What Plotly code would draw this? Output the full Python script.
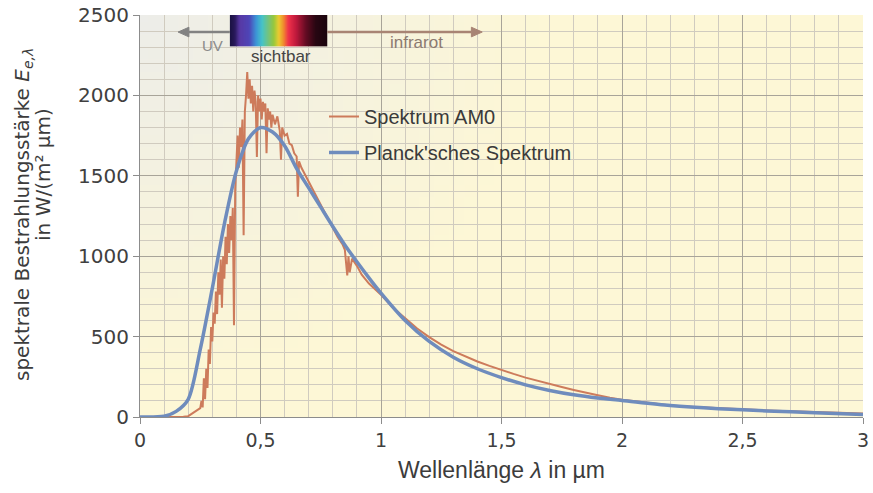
import base64, struct, zlib
import plotly.graph_objects as go

# ---------------- data ----------------
am0_wl = [0.00, 0.17, 0.18, 0.20, 0.21, 0.22, 0.23, 0.24, 0.25, 0.255, 0.26, 0.265, 0.27, 0.275,
          0.28, 0.285, 0.29, 0.295, 0.30, 0.305, 0.31, 0.315, 0.32, 0.325, 0.33, 0.335, 0.34,
          0.345, 0.35, 0.355, 0.36, 0.365, 0.37, 0.375, 0.38, 0.385, 0.39, 0.395, 0.40, 0.405,
          0.41, 0.415, 0.42, 0.425, 0.43, 0.435, 0.44, 0.445, 0.45, 0.455, 0.46, 0.465, 0.47,
          0.475, 0.48, 0.485, 0.49, 0.495, 0.50, 0.505, 0.51, 0.515, 0.52, 0.525, 0.53, 0.535,
          0.54, 0.545, 0.55, 0.56, 0.57, 0.58, 0.585, 0.59, 0.60, 0.61, 0.62, 0.63, 0.64, 0.65,
          0.655, 0.66, 0.67, 0.68, 0.69, 0.70, 0.72, 0.74, 0.76, 0.78, 0.80, 0.82, 0.84, 0.85,
          0.86, 0.865, 0.87, 0.88, 0.90, 0.92, 0.95, 1.00, 1.05, 1.10, 1.15, 1.20, 1.25, 1.30,
          1.35, 1.40, 1.45, 1.50, 1.55, 1.60, 1.65, 1.70, 1.75, 1.80, 1.85, 1.90, 1.95, 2.00,
          2.10, 2.20, 2.30, 2.40, 2.50, 2.60, 2.70, 2.80, 2.90, 3.00]
am0_e = [0, 0, 2, 5, 15, 25, 30, 45, 55, 100, 60, 240, 110, 300,
         180, 420, 330, 560, 470, 650, 580, 780, 640, 900, 760, 980, 680,
         1000, 860, 1120, 950, 1200, 1020, 1250, 1100, 1300, 570, 1420, 1600, 1750,
         1550, 1800, 1680, 1850, 1130, 1900, 2000, 2145, 1980, 2100, 1950, 2060, 1900,
         2030, 1960, 1617, 2000, 1900, 1980, 1850, 1960, 1900, 1950, 1640, 1920, 1850,
         1900, 1800, 1880, 1820, 1870, 1780, 1600, 1800, 1750, 1760, 1700, 1690, 1640, 1620,
         1370, 1590, 1550, 1520, 1490, 1460, 1400, 1345, 1290, 1235, 1180, 1120, 1075, 1040,
         880, 1000, 900, 985, 940, 885, 830, 760, 680, 612, 550, 497, 450, 410,
         375, 345, 318, 292, 268, 245, 224, 205, 186, 168, 150, 135, 120, 108,
         90, 72, 62, 54, 47, 41, 36, 31, 27, 22]

planck_wl = [0.00, 0.10, 0.15, 0.20, 0.25, 0.30, 0.35, 0.40, 0.45, 0.50, 0.55, 0.60, 0.65,
             0.70, 0.75, 0.80, 0.85, 0.90, 0.95, 1.00, 1.10, 1.20, 1.30, 1.40, 1.50, 1.60,
             1.70, 1.80, 1.90, 2.00, 2.20, 2.40, 2.60, 2.80, 3.00]
planck_e = [0, 5, 35, 110, 420, 800, 1200, 1530, 1730, 1800, 1772, 1687, 1545,
            1425, 1305, 1185, 1070, 965, 865, 770, 600, 470, 372, 300, 245, 200,
            165, 138, 118, 103, 72, 52, 38, 27, 15]

x_tickvals = [0, 0.5, 1, 1.5, 2, 2.5, 3]
x_ticktext = ["0", "0,5", "1", "1,5", "2", "2,5", "3"]
y_tickvals = [0, 500, 1000, 1500, 2000, 2500]
y_ticktext = ["0", "500", "1000", "1500", "2000", "2500"]

# visible-spectrum strip (wavelength span) and arrows
vis_start, vis_end = 0.373, 0.777
uv_arrow_end, ir_arrow_end = 0.158, 1.42
arrow_y = 2394


# ---------------- helper: tiny PNG for gradients ----------------
def make_png(rows):
    h = len(rows)
    w = len(rows[0])
    raw = b"".join(b"\x00" + bytes([c for px in row for c in px]) for row in rows)

    def chunk(t, d):
        return struct.pack(">I", len(d)) + t + d + struct.pack(">I", zlib.crc32(t + d) & 0xFFFFFFFF)

    png = (b"\x89PNG\r\n\x1a\n" + chunk(b"IHDR", struct.pack(">IIBBBBB", w, h, 8, 2, 0, 0, 0))
           + chunk(b"IDAT", zlib.compress(raw)) + chunk(b"IEND", b""))
    return "data:image/png;base64," + base64.b64encode(png).decode()


def lerp(c1, c2, t):
    return tuple(int(round(a + (b - a) * t)) for a, b in zip(c1, c2))


# background: greyish top-left fading to pale yellow
gray = (237, 237, 233)
yellow = (253, 247, 214)
bg_rows = []
BW, BH = 48, 32
for j in range(BH):
    row = []
    for i in range(BW):
        u = (i + 0.5) / BW
        v = (j + 0.5) / BH
        t = min(1.0, ((u / 0.55) ** 2 + (v / 0.9) ** 2) ** 0.5)
        row.append(lerp(gray, yellow, t))
    bg_rows.append(row)
bg_src = make_png(bg_rows)

# visible spectrum colour strip
stops = [(0.00, (26, 18, 66)), (0.05, (40, 24, 90)), (0.10, (88, 56, 164)), (0.20, (78, 70, 184)),
         (0.27, (60, 150, 215)), (0.33, (70, 195, 200)), (0.40, (120, 195, 120)), (0.45, (150, 200, 60)),
         (0.50, (235, 205, 50)), (0.55, (240, 140, 45)), (0.60, (240, 50, 75)), (0.68, (190, 25, 60)),
         (0.78, (100, 12, 35)), (0.88, (40, 6, 18)), (1.00, (26, 4, 14))]
strip = []
SW = 80
for i in range(SW):
    f = (i + 0.5) / SW
    for k in range(len(stops) - 1):
        if stops[k][0] <= f <= stops[k + 1][0]:
            t = (f - stops[k][0]) / (stops[k + 1][0] - stops[k][0])
            strip.append(lerp(stops[k][1], stops[k + 1][1], t))
            break
strip_src = make_png([strip, strip])

# ---------------- figure ----------------
fig = go.Figure()
fig.add_trace(go.Scatter(x=am0_wl, y=am0_e, mode="lines", name="Spektrum AM0",
                         line=dict(color="#cd7b5b", width=2), legend="legend"))
fig.add_trace(go.Scatter(x=planck_wl, y=planck_e, mode="lines", name="Planck'sches Spektrum",
                         line=dict(color="#6f8cbd", width=3.5, shape="spline", smoothing=0.8),
                         legend="legend2"))

fig.add_layout_image(dict(source=bg_src, xref="x", yref="y", x=0, y=2500, sizex=3, sizey=2500,
                          xanchor="left", yanchor="top", sizing="stretch", layer="below"))
fig.add_layout_image(dict(source=strip_src, xref="x", yref="y", x=vis_start, y=2500,
                          sizex=vis_end - vis_start, sizey=195, xanchor="left", yanchor="top",
                          sizing="stretch", layer="above"))

# arrows as shapes (shaft + filled head), sizes in data units of the axes
head_len = 0.045   # ~11 px along x
head_hw = 30       # ~5 px half-height along y
for tip, base, col in [(uv_arrow_end, vis_start, "#828282"), (ir_arrow_end, vis_end, "#a88474")]:
    sgn = 1 if tip < base else -1
    hb = tip + sgn * head_len
    fig.add_shape(type="line", xref="x", yref="y", x0=base, y0=arrow_y, x1=hb, y1=arrow_y,
                  line=dict(color=col, width=2.5), layer="above")
    fig.add_shape(type="path", xref="x", yref="y",
                  path=f"M {tip},{arrow_y} L {hb},{arrow_y + head_hw} L {hb},{arrow_y - head_hw} Z",
                  fillcolor=col, line=dict(color=col, width=1), layer="above")

fig.add_annotation(x=0.299, y=2313, xref="x", yref="y", text="UV", showarrow=False,
                   xanchor="center", yanchor="middle",
                   font=dict(family="Liberation Sans", size=15, color="#8a8a8a"))
fig.add_annotation(x=0.585, y=2239, xref="x", yref="y", text="sichtbar", showarrow=False,
                   xanchor="center", yanchor="middle",
                   font=dict(family="Liberation Sans", size=17, color="#444444"))
fig.add_annotation(x=1.147, y=2326, xref="x", yref="y", text="infrarot", showarrow=False,
                   xanchor="center", yanchor="middle",
                   font=dict(family="Liberation Sans", size=17, color="#8c7a70"))

# y-axis title (two lines)
fig.add_annotation(x=-0.1618, y=0.5025, xref="paper", yref="paper", textangle=-90, showarrow=False,
                   xanchor="center", yanchor="middle",
                   text="spektrale Bestrahlungsstärke <i>E</i><sub><i>e,λ</i></sub>",
                   font=dict(family="DejaVu Sans", size=20, color="#3c3c3c"))
fig.add_annotation(x=-0.1342, y=0.6045, xref="paper", yref="paper", textangle=-90, showarrow=False,
                   xanchor="center", yanchor="middle",
                   text="in W/(m² µm)", font=dict(family="DejaVu Sans", size=20, color="#3c3c3c"))

grid_major = "#a8a499"
grid_minor = "#d0cbbf"
axis_col = "#8c8c8c"

fig.update_xaxes(range=[0, 3], tickmode="array", tickvals=x_tickvals, ticktext=x_ticktext,
                 automargin=False,
                 ticks="outside", ticklen=6, tickcolor=axis_col, showline=True, linecolor=axis_col,
                 showgrid=True, gridcolor=grid_major, gridwidth=1, zeroline=False,
                 minor=dict(tickmode="linear", tick0=0, dtick=0.1, showgrid=True, gridcolor=grid_minor,
                            gridwidth=1, ticks=""),
                 tickfont=dict(family="DejaVu Sans", size=19, color="#404040"),
                 title=dict(text="Wellenlänge <i>λ</i> in µm", standoff=12,
                            font=dict(family="Liberation Sans", size=23, color="#3c3c3c")))
fig.update_yaxes(range=[0, 2500], tickmode="array", tickvals=y_tickvals, ticktext=y_ticktext,
                 automargin=False,
                 ticks="outside", ticklen=6, tickcolor=axis_col, showline=True, linecolor=axis_col,
                 showgrid=True, gridcolor=grid_major, gridwidth=1, zeroline=False,
                 minor=dict(tickmode="linear", tick0=0, dtick=100, showgrid=True, gridcolor=grid_minor,
                            gridwidth=1, ticks=""),
                 tickfont=dict(family="DejaVu Sans", size=20, color="#404040"))

legend_font = dict(family="Liberation Sans", size=20, color="#3a3a3a")
fig.update_layout(
    width=873, height=493,
    margin=dict(l=140, r=10, t=15, b=76, autoexpand=False),
    paper_bgcolor="white", plot_bgcolor="rgba(0,0,0,0)",
    showlegend=True,
    legend=dict(x=0.2545, y=0.796, xanchor="left", yanchor="top", bgcolor="rgba(0,0,0,0)",
                font=legend_font, itemwidth=30),
    legend2=dict(x=0.2545, y=0.7065, xanchor="left", yanchor="top", bgcolor="rgba(0,0,0,0)",
                 font=legend_font, itemwidth=30),
)

fig.write_html("out.html")
